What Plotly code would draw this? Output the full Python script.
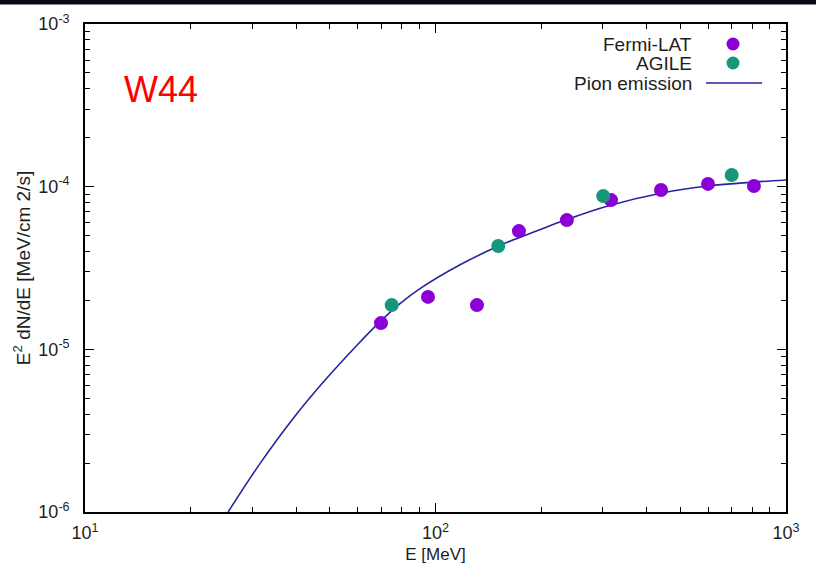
import plotly.graph_objects as go

# Fermi-LAT spectral points (E in MeV, E^2 dN/dE in MeV/cm2/s)
fermi_e = [69.9, 95.2, 131.3, 173.0, 237.0, 316.8, 440.0, 599.0, 810.0]
fermi_f = [1.45e-5, 2.10e-5, 1.87e-5, 5.33e-5, 6.23e-5, 8.27e-5, 9.53e-5, 1.04e-4, 1.01e-4]

# AGILE spectral points
agile_e = [75.0, 151.0, 301.0, 700.0]
agile_f = [1.87e-5, 4.32e-5, 8.75e-5, 1.18e-4]

# Pion-decay emission model curve
pion_e = [25.6, 31.6, 39.3, 47.8, 59.7, 69.5, 79.2, 90.3, 117.5, 150.8,
          173.1, 205.3, 238.8, 308.5, 442.9, 599.0, 810.0, 1000.0]
pion_f = [1.0e-6, 1.99e-6, 3.77e-6, 6.27e-6, 1.06e-5, 1.48e-5, 1.91e-5, 2.36e-5,
          3.31e-5, 4.30e-5, 4.86e-5, 5.60e-5, 6.32e-5, 7.59e-5, 9.14e-5, 1.009e-4,
          1.067e-4, 1.099e-4]

x_major = [10, 100, 1000]
x_major_text = ["10<sup>1</sup>", "10<sup>2</sup>", "10<sup>3</sup>"]
y_major = [1e-6, 1e-5, 1e-4, 1e-3]
y_major_text = ["10<sup>-6</sup>", "10<sup>-5</sup>", "10<sup>-4</sup>", "10<sup>-3</sup>"]

x_minor = [m * d for d in (10, 100) for m in range(2, 10)]
y_minor = [m * d for d in (1e-6, 1e-5, 1e-4) for m in range(2, 10)]

PURPLE = "#8a00d6"
TEAL = "#16977a"
NAVY = "#25259e"
FONT = "Liberation Sans, Arial, sans-serif"
TXT = "#1e1e1e"

fig = go.Figure()
fig.add_trace(go.Scatter(x=pion_e, y=pion_f, mode="lines",
                         line=dict(color=NAVY, width=1.6, shape="spline", smoothing=1.0),
                         showlegend=False))
fig.add_trace(go.Scatter(x=fermi_e, y=fermi_f, mode="markers",
                         marker=dict(color=PURPLE, size=14), showlegend=False))
fig.add_trace(go.Scatter(x=agile_e, y=agile_f, mode="markers",
                         marker=dict(color=TEAL, size=14), showlegend=False))

L, R, T, B = 85, 30, 24, 62
W, H = 816, 574
PW, PH = W - L - R, H - T - B


def px(xp):
    return (xp - L) / PW


def py(yp):
    return (H - B - yp) / PH


axis_common = dict(
    type="log",
    showline=True, linecolor="black", linewidth=1.6, mirror="allticks",
    ticks="inside", ticklen=9, tickwidth=1.2, tickcolor="black",
    showgrid=False, zeroline=False,
    tickfont=dict(family=FONT, size=18, color=TXT),
)

fig.update_xaxes(
    **axis_common, range=[1, 3], tickmode="array",
    tickvals=x_major, ticktext=x_major_text, ticklabelstandoff=4,
    minor=dict(tickmode="array", tickvals=x_minor, ticks="inside",
               ticklen=5, tickwidth=1.2, tickcolor="black", showgrid=False),
    title=dict(text="E [MeV]", font=dict(family=FONT, size=17, color=TXT),
               standoff=6),
)
fig.update_yaxes(
    **axis_common, range=[-6, -3], tickmode="array",
    tickvals=y_major, ticktext=y_major_text, ticklabelstandoff=10,
    minor=dict(tickmode="array", tickvals=y_minor, ticks="inside",
               ticklen=5, tickwidth=1.2, tickcolor="black", showgrid=False),
    title=dict(text="E<sup>2</sup> dN/dE [MeV/cm 2/s]",
               font=dict(family=FONT, size=19, color=TXT), standoff=3),
)

shapes = [
    # dark band along the top edge
    dict(type="rect", xref="paper", yref="paper", x0=-0.2, x1=1.1,
         y0=py(4.5), y1=py(-5), fillcolor="#0a0a14", line=dict(width=0), layer="above"),
    # legend samples
    dict(type="circle", xref="paper", yref="paper", xsizemode="pixel", ysizemode="pixel",
         xanchor=px(733), yanchor=py(44), x0=-6.5, x1=6.5, y0=-6.5, y1=6.5,
         fillcolor=PURPLE, line=dict(width=0)),
    dict(type="circle", xref="paper", yref="paper", xsizemode="pixel", ysizemode="pixel",
         xanchor=px(733), yanchor=py(63), x0=-6.5, x1=6.5, y0=-6.5, y1=6.5,
         fillcolor=TEAL, line=dict(width=0)),
    dict(type="line", xref="paper", yref="paper", x0=px(706), x1=px(762),
         y0=py(83), y1=py(83), line=dict(color=NAVY, width=1.6)),
]

annotations = [
    dict(text="W44", xref="paper", yref="paper", x=px(161), y=py(90),
         xanchor="center", yanchor="middle", showarrow=False,
         font=dict(family=FONT, size=36, color="#ff0000")),
]
for label, ypix in (("Fermi-LAT", 44), ("AGILE", 63), ("Pion emission", 83)):
    annotations.append(dict(text=label, xref="paper", yref="paper", x=px(694), y=py(ypix),
                            xanchor="right", yanchor="middle", showarrow=False,
                            font=dict(family=FONT, size=19, color=TXT)))

fig.update_layout(
    width=W, height=H,
    margin=dict(l=L, r=R, t=T, b=B),
    paper_bgcolor="white", plot_bgcolor="white",
    shapes=shapes, annotations=annotations,
    showlegend=False,
)

fig.write_html("out.html")
